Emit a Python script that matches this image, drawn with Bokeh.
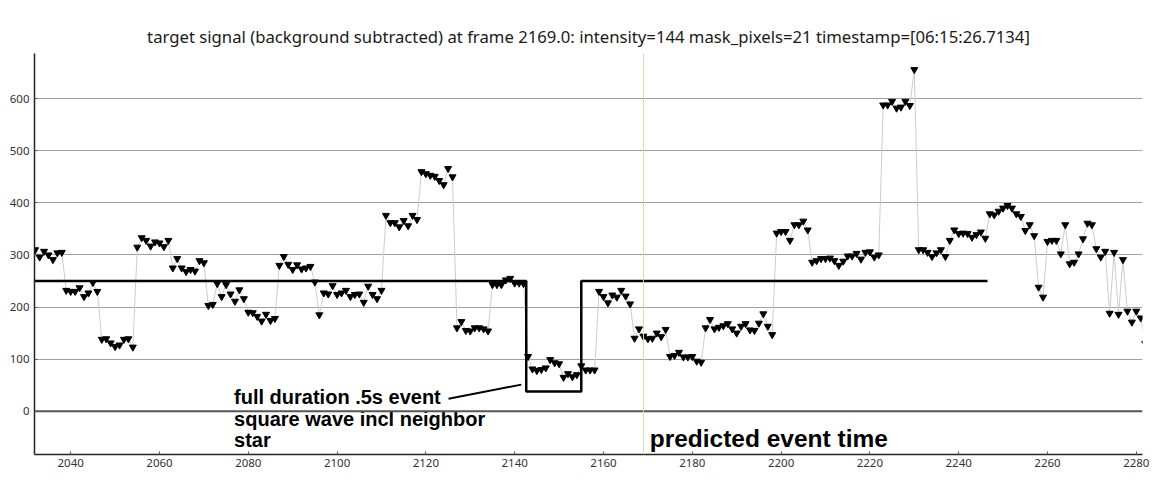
from bokeh.core.properties import value
from bokeh.embed import file_html
from bokeh.models import FixedTicker, Range1d, Span
from bokeh.plotting import figure
from bokeh.resources import INLINE

TITLE = ('target signal (background subtracted) at frame 2169.0: intensity=144 '
         'mask_pixels=21 timestamp=[06:15:26.7134]')

first_frame = 2032
intensity = [
    310, 296, 307, 300, 291, 304, 305, 232, 230, 230,
    237, 220, 227, 247, 230, 138, 139, 131, 124, 127,
    138, 139, 123, 315, 333, 328, 317, 325, 323, 316,
    328, 275, 293, 275, 268, 272, 269, 289, 285, 203,
    205, 245, 220, 243, 225, 211, 233, 216, 190, 189,
    182, 173, 186, 174, 178, 280, 297, 282, 272, 281,
    273, 275, 278, 248, 185, 227, 225, 241, 224, 227,
    232, 220, 224, 225, 209, 240, 224, 216, 232, 376,
    362, 362, 354, 366, 356, 376, 368, 460, 456, 453,
    451, 443, 435, 466, 450, 160, 172, 155, 154, 160,
    160, 158, 154, 243, 243, 243, 252, 255, 246, 246,
    245, 105, 81, 78, 80, 83, 99, 93, 91, 65,
    72, 66, 70, 87, 79, 79, 79, 230, 220, 208,
    223, 219, 232, 221, 206, 140, 158, 144, 139, 140,
    150, 143, 157, 105, 107, 113, 104, 104, 105, 96,
    94, 160, 176, 158, 161, 164, 168, 158, 150, 163,
    168, 156, 155, 169, 187, 163, 147, 342, 345, 345,
    328, 358, 358, 365, 348, 286, 289, 293, 293, 294,
    289, 280, 288, 298, 298, 303, 292, 305, 306, 296,
    300, 588, 588, 595, 582, 584, 595, 587, 656, 310,
    310, 305, 297, 304, 310, 297, 328, 348, 341, 342,
    341, 334, 339, 344, 332, 379, 377, 384, 390, 395,
    390, 379, 374, 347, 358, 337, 238, 219, 326, 328,
    328, 302, 358, 283, 286, 302, 331, 361, 358, 312,
    296, 307, 188, 305, 186, 291, 192, 171, 192, 179,
    130,
]
frames = [first_frame + i for i in range(len(intensity))]

# square wave model of the event
model_frames = [2030, 2142.6, 2142.6, 2155.0, 2155.0, 2246.5]
model_values = [250, 250, 38, 38, 250, 250]

event_frame = 2169
pointer_frames = [2125.1, 2141.5]
pointer_values = [24, 51]

note_lines = ['full duration .5s event', 'square wave incl neighbor', 'star']
note_frames = [2076.8, 2076.8, 2076.8]
note_values = [27.6, -14.1, -55.8]

x_ticks = [2040, 2060, 2080, 2100, 2120, 2140, 2160, 2180, 2200, 2220, 2240, 2260, 2280]
y_ticks = [0, 100, 200, 300, 400, 500, 600]

p = figure(
    frame_width=1108,
    frame_height=401,
    x_range=Range1d(2031.85, 2281.4),
    y_range=Range1d(-83.2, 687),
    min_border_left=34,
    min_border_right=8,
    min_border_top=53,
    min_border_bottom=34,
    title=TITLE,
    output_backend="svg",
    toolbar_location=None,
)
p.title.align = 'center'
p.title.text_font = 'Noto Sans'
p.title.text_font_style = 'normal'
p.title.text_font_size = '16.7px'
p.title.text_color = '#1a1a1a'
p.title.standoff = 12
p.outline_line_color = None
p.background_fill_color = 'white'
p.border_fill_color = 'white'

p.xgrid.visible = False
p.ygrid.ticker = FixedTicker(ticks=y_ticks)
p.ygrid.grid_line_color = '#a0a0a0'
p.xaxis.ticker = FixedTicker(ticks=x_ticks)
p.yaxis.ticker = FixedTicker(ticks=y_ticks)
p.axis.axis_line_color = '#222222'
p.axis.axis_line_width = 1.5
p.axis.major_tick_in = 3
p.axis.major_tick_out = 0
p.axis.major_tick_line_color = '#555555'
p.axis.minor_tick_line_color = None
p.axis.major_label_text_font = 'Noto Sans'
p.axis.major_label_text_font_size = '11.5px'
p.axis.major_label_text_color = '#333333'
p.yaxis.major_label_standoff = 5
p.xaxis.major_label_standoff = 4

p.add_layout(Span(location=0, dimension='width', line_color='#555555', line_width=2))
p.add_layout(Span(location=event_frame, dimension='height', line_color='#d8d8b0', line_width=1))

p.line(frames, intensity, line_color='#cccccc', line_width=1)
p.scatter(frames, intensity, marker='inverted_triangle', size=7,
          fill_color='black', line_color='black')
p.line(model_frames, model_values, line_color='black', line_width=2.5)
p.line(pointer_frames, pointer_values, line_color='black', line_width=2)

p.text(note_frames, note_values, text=note_lines, text_font=value('Liberation Sans'),
       text_font_style='bold', text_font_size='20px', text_color='black',
       text_baseline='alphabetic')
p.text([2170.4], [-52.5], text=['predicted event time'], text_font=value('Liberation Sans'),
       text_font_style='bold', text_font_size='24.5px', text_color='black',
       text_baseline='alphabetic')

open("out.html", "w").write(file_html(p, INLINE))
